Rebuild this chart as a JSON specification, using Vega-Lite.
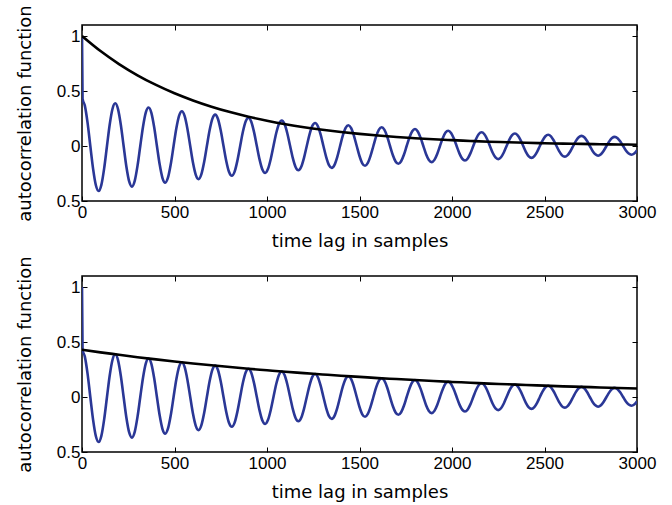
{
  "$schema": "https://vega.github.io/schema/vega-lite/v6.json",
  "padding": {"left": 15, "top": 4, "right": 10, "bottom": 2},
  "spacing": 4,
  "datasets": {
    "blue": [
      {"lag":0,"acf":1},{"lag":3,"acf":0.43},{"lag":15,"acf":0.369},{"lag":30,"acf":0.212},{"lag":45,"acf":0},{"lag":60,"acf":-0.208},{"lag":75,"acf":-0.357},{"lag":90,"acf":-0.409},{"lag":105,"acf":-0.351},{"lag":120,"acf":-0.201},{"lag":135,"acf":0},{"lag":150,"acf":0.198},{"lag":165,"acf":0.339},
      {"lag":180,"acf":0.388},{"lag":195,"acf":0.333},{"lag":210,"acf":0.191},{"lag":225,"acf":0},{"lag":240,"acf":-0.188},{"lag":255,"acf":-0.322},{"lag":270,"acf":-0.369},{"lag":285,"acf":-0.317},{"lag":300,"acf":-0.181},{"lag":315,"acf":0},{"lag":330,"acf":0.178},{"lag":345,"acf":0.306},
      {"lag":360,"acf":0.35},{"lag":375,"acf":0.301},{"lag":390,"acf":0.172},{"lag":405,"acf":0},{"lag":420,"acf":-0.169},{"lag":435,"acf":-0.291},{"lag":450,"acf":-0.333},{"lag":465,"acf":-0.286},{"lag":480,"acf":-0.164},{"lag":495,"acf":0},{"lag":510,"acf":0.161},{"lag":525,"acf":0.276},
      {"lag":540,"acf":0.316},{"lag":555,"acf":0.271},{"lag":570,"acf":0.155},{"lag":585,"acf":0},{"lag":600,"acf":-0.153},{"lag":615,"acf":-0.262},{"lag":630,"acf":-0.301},{"lag":645,"acf":-0.258},{"lag":660,"acf":-0.148},{"lag":675,"acf":0},{"lag":690,"acf":0.145},{"lag":705,"acf":0.249},
      {"lag":720,"acf":0.285},{"lag":735,"acf":0.245},{"lag":750,"acf":0.14},{"lag":765,"acf":0},{"lag":780,"acf":-0.138},{"lag":795,"acf":-0.237},{"lag":810,"acf":-0.271},{"lag":825,"acf":-0.233},{"lag":840,"acf":-0.133},{"lag":855,"acf":0},{"lag":870,"acf":0.131},{"lag":885,"acf":0.225},
      {"lag":900,"acf":0.257},{"lag":915,"acf":0.221},{"lag":930,"acf":0.126},{"lag":945,"acf":0},{"lag":960,"acf":-0.124},{"lag":975,"acf":-0.214},{"lag":990,"acf":-0.245},{"lag":1005,"acf":-0.21},{"lag":1020,"acf":-0.12},{"lag":1035,"acf":0},{"lag":1050,"acf":0.118},{"lag":1065,"acf":0.203},
      {"lag":1080,"acf":0.232},{"lag":1095,"acf":0.199},{"lag":1110,"acf":0.114},{"lag":1125,"acf":0},{"lag":1140,"acf":-0.112},{"lag":1155,"acf":-0.193},{"lag":1170,"acf":-0.221},{"lag":1185,"acf":-0.189},{"lag":1200,"acf":-0.108},{"lag":1215,"acf":0},{"lag":1230,"acf":0.106},{"lag":1245,"acf":0.183},
      {"lag":1260,"acf":0.209},{"lag":1275,"acf":0.18},{"lag":1290,"acf":0.103},{"lag":1305,"acf":0},{"lag":1320,"acf":-0.101},{"lag":1335,"acf":-0.174},{"lag":1350,"acf":-0.199},{"lag":1365,"acf":-0.171},{"lag":1380,"acf":-0.098},{"lag":1395,"acf":0},{"lag":1410,"acf":0.096},{"lag":1425,"acf":0.165},
      {"lag":1440,"acf":0.189},{"lag":1455,"acf":0.162},{"lag":1470,"acf":0.093},{"lag":1485,"acf":0},{"lag":1500,"acf":-0.091},{"lag":1515,"acf":-0.157},{"lag":1530,"acf":-0.18},{"lag":1545,"acf":-0.154},{"lag":1560,"acf":-0.088},{"lag":1575,"acf":0},{"lag":1590,"acf":0.087},{"lag":1605,"acf":0.149},
      {"lag":1620,"acf":0.17},{"lag":1635,"acf":0.146},{"lag":1650,"acf":0.084},{"lag":1665,"acf":0},{"lag":1680,"acf":-0.082},{"lag":1695,"acf":-0.141},{"lag":1710,"acf":-0.162},{"lag":1725,"acf":-0.139},{"lag":1740,"acf":-0.08},{"lag":1755,"acf":0},{"lag":1770,"acf":0.078},{"lag":1785,"acf":0.134},
      {"lag":1800,"acf":0.154},{"lag":1815,"acf":0.132},{"lag":1830,"acf":0.076},{"lag":1845,"acf":0},{"lag":1860,"acf":-0.075},{"lag":1875,"acf":-0.128},{"lag":1890,"acf":-0.147},{"lag":1905,"acf":-0.126},{"lag":1920,"acf":-0.072},{"lag":1935,"acf":0},{"lag":1950,"acf":0.071},{"lag":1965,"acf":0.122},
      {"lag":1980,"acf":0.139},{"lag":1995,"acf":0.119},{"lag":2010,"acf":0.068},{"lag":2025,"acf":0},{"lag":2040,"acf":-0.067},{"lag":2055,"acf":-0.115},{"lag":2070,"acf":-0.132},{"lag":2085,"acf":-0.113},{"lag":2100,"acf":-0.065},{"lag":2115,"acf":0},{"lag":2130,"acf":0.064},{"lag":2145,"acf":0.109},
      {"lag":2160,"acf":0.125},{"lag":2175,"acf":0.107},{"lag":2190,"acf":0.062},{"lag":2205,"acf":0},{"lag":2220,"acf":-0.061},{"lag":2235,"acf":-0.104},{"lag":2250,"acf":-0.119},{"lag":2265,"acf":-0.102},{"lag":2280,"acf":-0.059},{"lag":2295,"acf":0},{"lag":2310,"acf":0.058},{"lag":2325,"acf":0.099},
      {"lag":2340,"acf":0.113},{"lag":2355,"acf":0.097},{"lag":2370,"acf":0.056},{"lag":2385,"acf":0},{"lag":2400,"acf":-0.055},{"lag":2415,"acf":-0.094},{"lag":2430,"acf":-0.108},{"lag":2445,"acf":-0.092},{"lag":2460,"acf":-0.053},{"lag":2475,"acf":0},{"lag":2490,"acf":0.052},{"lag":2505,"acf":0.089},
      {"lag":2520,"acf":0.102},{"lag":2535,"acf":0.088},{"lag":2550,"acf":0.05},{"lag":2565,"acf":0},{"lag":2580,"acf":-0.049},{"lag":2595,"acf":-0.085},{"lag":2610,"acf":-0.097},{"lag":2625,"acf":-0.083},{"lag":2640,"acf":-0.048},{"lag":2655,"acf":0},{"lag":2670,"acf":0.047},{"lag":2685,"acf":0.08},
      {"lag":2700,"acf":0.092},{"lag":2715,"acf":0.079},{"lag":2730,"acf":0.045},{"lag":2745,"acf":0},{"lag":2760,"acf":-0.045},{"lag":2775,"acf":-0.076},{"lag":2790,"acf":-0.088},{"lag":2805,"acf":-0.075},{"lag":2820,"acf":-0.043},{"lag":2835,"acf":0},{"lag":2850,"acf":0.042},{"lag":2865,"acf":0.073},
      {"lag":2880,"acf":0.083},{"lag":2895,"acf":0.071},{"lag":2910,"acf":0.041},{"lag":2925,"acf":0},{"lag":2940,"acf":-0.04},{"lag":2955,"acf":-0.069},{"lag":2970,"acf":-0.079},{"lag":2985,"acf":-0.068},{"lag":3000,"acf":-0.039}
    ],
    "topBlack": [
      {"lag":0,"acf":1},{"lag":100,"acf":0.863},{"lag":200,"acf":0.745},{"lag":300,"acf":0.643},{"lag":400,"acf":0.555},{"lag":500,"acf":0.479},{"lag":600,"acf":0.414},{"lag":700,"acf":0.357},{"lag":800,"acf":0.308},{"lag":900,"acf":0.266},{"lag":1000,"acf":0.23},{"lag":1100,"acf":0.198},{"lag":1200,"acf":0.171},{"lag":1300,"acf":0.148},{"lag":1400,"acf":0.128},{"lag":1500,"acf":0.11},{"lag":1600,"acf":0.095},{"lag":1700,"acf":0.082},{"lag":1800,"acf":0.071},{"lag":1900,"acf":0.061},{"lag":2000,"acf":0.053},{"lag":2100,"acf":0.046},{"lag":2200,"acf":0.039},{"lag":2300,"acf":0.034},{"lag":2400,"acf":0.029},{"lag":2500,"acf":0.025},{"lag":2600,"acf":0.022},{"lag":2700,"acf":0.019},{"lag":2800,"acf":0.016},{"lag":2900,"acf":0.014},{"lag":3000,"acf":0.012}
    ],
    "botBlack": [
      {"lag":0,"acf":0.43},{"lag":100,"acf":0.406},{"lag":200,"acf":0.384},{"lag":300,"acf":0.362},{"lag":400,"acf":0.342},{"lag":500,"acf":0.323},{"lag":600,"acf":0.305},{"lag":700,"acf":0.288},{"lag":800,"acf":0.272},{"lag":900,"acf":0.257},{"lag":1000,"acf":0.243},{"lag":1100,"acf":0.229},{"lag":1200,"acf":0.217},{"lag":1300,"acf":0.205},{"lag":1400,"acf":0.193},{"lag":1500,"acf":0.183},{"lag":1600,"acf":0.172},{"lag":1700,"acf":0.163},{"lag":1800,"acf":0.154},{"lag":1900,"acf":0.145},{"lag":2000,"acf":0.137},{"lag":2100,"acf":0.13},{"lag":2200,"acf":0.122},{"lag":2300,"acf":0.116},{"lag":2400,"acf":0.109},{"lag":2500,"acf":0.103},{"lag":2600,"acf":0.097},{"lag":2700,"acf":0.092},{"lag":2800,"acf":0.087},{"lag":2900,"acf":0.082},{"lag":3000,"acf":0.077}
    ]
  },
  "config": {
    "view": {"stroke": "#000000", "strokeWidth": 1.5},
    "axis": {
      "domain": false, "grid": false, "tickSize": -5, "tickColor": "#000000", "tickWidth": 1,
      "labelFont": "Liberation Sans", "labelFontSize": 17, "labelColor": "#000000",
      "titleFont": "DejaVu Sans", "titleFontSize": 18, "titleFontWeight": "normal", "titleColor": "#000000"
    }
  },
  "vconcat": [
    {
      "width": 555, "height": 176,
      "layer": [
        {
          "data": {"name": "blue"},
          "mark": {"type": "line", "color": "#2a3796", "strokeWidth": 2.6, "interpolate": "monotone", "clip": true},
          "encoding": {
            "x": {"field": "lag", "type": "quantitative", "scale": {"domain": [0, 3000], "nice": false},
                  "axis": {"values": [0, 500, 1000, 1500, 2000, 2500, 3000], "format": "d", "labelFont": "Liberation Sans", "labelFontSize": 17, "title": "time lag in samples", "labelPadding": 8, "titlePadding": 12, "labelFlush": false}},
            "y": {"field": "acf", "type": "quantitative", "scale": {"domain": [-0.5, 1.1], "nice": false, "zero": false},
                  "axis": {"values": [-0.5, 0, 0.5, 1], "title": "autocorrelation function", "labelFont": "Liberation Sans", "labelFontSize": 17, "labelExpr": "format(abs(datum.value), '~g')", "labelPadding": 7, "titlePadding": 22}}
          }
        },
        {
          "data": {"name": "topBlack"},
          "mark": {"type": "line", "color": "#000000", "strokeWidth": 2.6, "interpolate": "monotone", "clip": true},
          "encoding": {
            "x": {"field": "lag", "type": "quantitative", "axis": {"orient": "top", "labels": false, "title": null, "values": [0, 500, 1000, 1500, 2000, 2500, 3000]}},
            "y": {"field": "acf", "type": "quantitative", "axis": {"orient": "right", "labels": false, "title": null, "values": [-0.5, 0, 0.5, 1]}}
          }
        }
      ],
      "resolve": {"axis": {"x": "independent", "y": "independent"}}
    },
    {
      "width": 555, "height": 176,
      "layer": [
        {
          "data": {"name": "blue"},
          "mark": {"type": "line", "color": "#2a3796", "strokeWidth": 2.6, "interpolate": "monotone", "clip": true},
          "encoding": {
            "x": {"field": "lag", "type": "quantitative", "scale": {"domain": [0, 3000], "nice": false},
                  "axis": {"values": [0, 500, 1000, 1500, 2000, 2500, 3000], "format": "d", "labelFont": "Liberation Sans", "labelFontSize": 17, "title": "time lag in samples", "labelPadding": 8, "titlePadding": 12, "labelFlush": false}},
            "y": {"field": "acf", "type": "quantitative", "scale": {"domain": [-0.5, 1.1], "nice": false, "zero": false},
                  "axis": {"values": [-0.5, 0, 0.5, 1], "title": "autocorrelation function", "labelFont": "Liberation Sans", "labelFontSize": 17, "labelExpr": "format(abs(datum.value), '~g')", "labelPadding": 7, "titlePadding": 22}}
          }
        },
        {
          "data": {"name": "botBlack"},
          "mark": {"type": "line", "color": "#000000", "strokeWidth": 2.6, "interpolate": "monotone", "clip": true},
          "encoding": {
            "x": {"field": "lag", "type": "quantitative", "axis": {"orient": "top", "labels": false, "title": null, "values": [0, 500, 1000, 1500, 2000, 2500, 3000]}},
            "y": {"field": "acf", "type": "quantitative", "axis": {"orient": "right", "labels": false, "title": null, "values": [-0.5, 0, 0.5, 1]}}
          }
        }
      ],
      "resolve": {"axis": {"x": "independent", "y": "independent"}}
    }
  ]
}
